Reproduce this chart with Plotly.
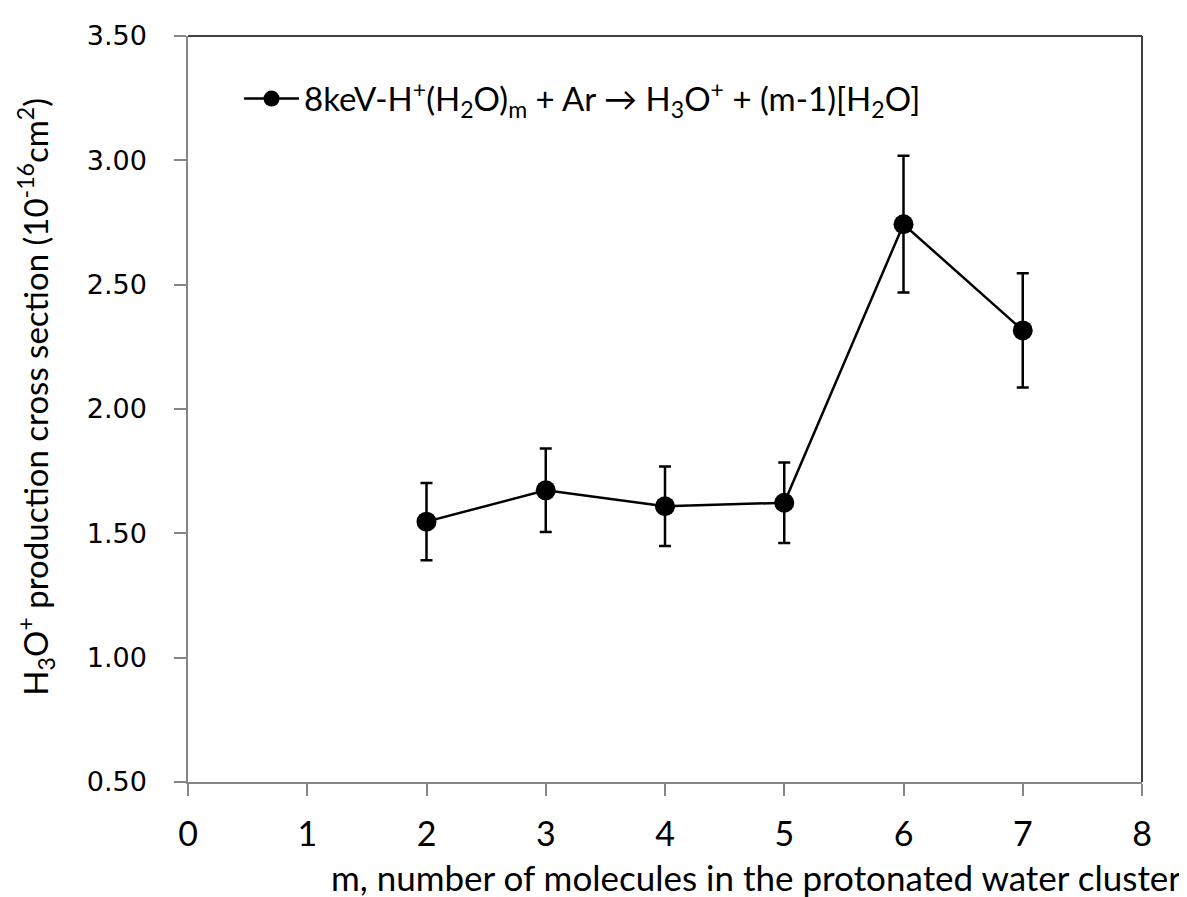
import plotly.graph_objects as go

m_values = [2, 3, 4, 5, 6, 7]
cross_section = [1.547, 1.673, 1.609, 1.623, 2.743, 2.316]
error = [0.155, 0.168, 0.160, 0.162, 0.275, 0.230]

x_ticks = [0, 1, 2, 3, 4, 5, 6, 7, 8]
y_ticks = [0.5, 1.0, 1.5, 2.0, 2.5, 3.0, 3.5]
y_tick_labels = ["0.50", "1.00", "1.50", "2.00", "2.50", "3.00", "3.50"]

legend_name = "8keV-H<sup>+</sup>(H<sub>2</sub>O)<sub>m</sub> + Ar \u2192 H<sub>3</sub>O<sup>+</sup> + (m-1)[H<sub>2</sub>O]"
x_title = "m, number of molecules in the protonated water cluster"
y_title = "H<sub>3</sub>O<sup>+</sup> production cross section (10<sup>-16</sup>cm<sup>2</sup>)"

calibri = "Lato, 'Open Sans', sans-serif"

fig = go.Figure()
fig.add_trace(go.Scatter(
    x=m_values, y=cross_section,
    mode="lines+markers",
    name=legend_name,
    line=dict(color="black", width=2.5),
    marker=dict(color="black", size=20),
    error_y=dict(type="data", array=error, visible=True, color="black", thickness=2.5, width=6),
))

fig.update_layout(
    width=1179, height=889,
    margin=dict(l=180, r=45, t=20, b=115),
    paper_bgcolor="white", plot_bgcolor="white",
    showlegend=True,
    legend=dict(x=0.0535, y=0.916, xanchor="left", yanchor="middle",
                font=dict(family=calibri, size=33, color="black"),
                bgcolor="rgba(0,0,0,0)", itemwidth=55),
    xaxis=dict(range=[0, 8], tickvals=x_ticks, ticks="outside", ticklen=12, tickcolor="#868686",
               tickwidth=1.5, showline=True, linecolor="#868686", linewidth=1.5, showgrid=False,
               zeroline=False, ticklabelstandoff=9,
               tickfont=dict(family=calibri, size=34, color="black")),
    yaxis=dict(range=[0.5, 3.5], tickvals=y_ticks, ticktext=y_tick_labels, ticks="outside", ticklen=12,
               tickcolor="#868686", tickwidth=1.5, showline=True, linecolor="#868686", linewidth=1.5,
               showgrid=False, zeroline=False, ticklabelstandoff=22,
               tickfont=dict(family="DejaVu Sans, Verdana, sans-serif", size=27, color="black")),
    shapes=[
        dict(type="line", xref="paper", yref="paper", x0=0, x1=1, y0=1, y1=1, line=dict(color="#404040", width=2)),
        dict(type="line", xref="paper", yref="paper", x0=1, x1=1, y0=0, y1=1, line=dict(color="#404040", width=2)),
    ],
    annotations=[
        dict(text=x_title, xref="paper", yref="paper", x=1.043, y=-0.127, xanchor="right", yanchor="middle",
             showarrow=False, font=dict(family=calibri, size=35, color="black")),
        dict(text=y_title, xref="paper", yref="paper", x=-0.16, y=0.517, xanchor="center", yanchor="middle",
             textangle=-90, showarrow=False, font=dict(family=calibri, size=33, color="black")),
    ],
)

fig.write_html("out.html")
